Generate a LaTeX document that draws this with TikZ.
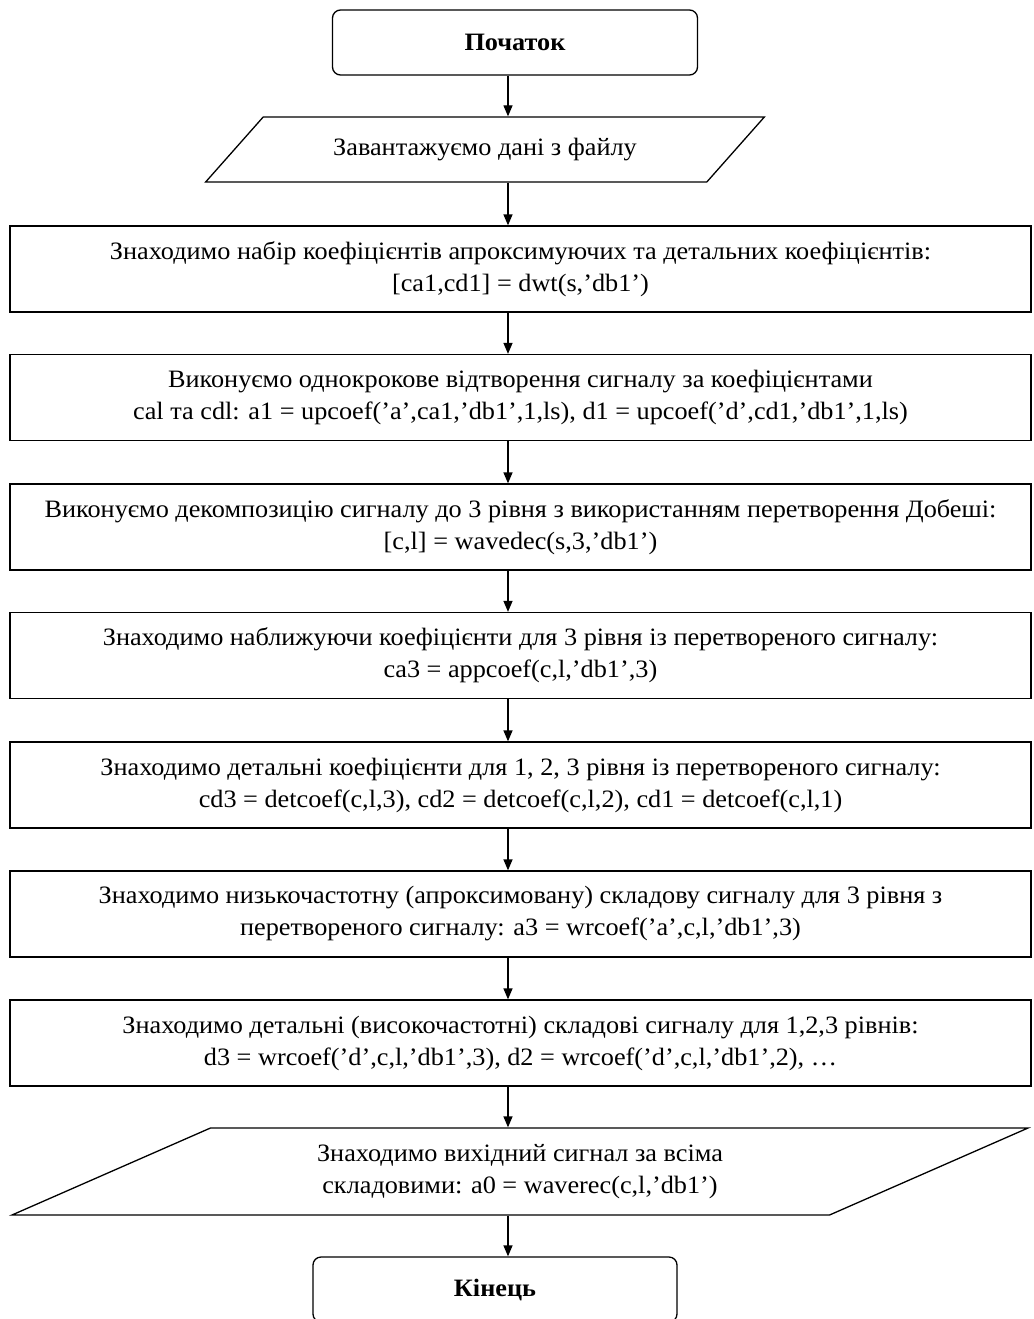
\documentclass[tikz,border=0pt]{standalone}
\usepackage{fontspec}
\setmainfont[FakeStretch=1.05]{Liberation Serif}
\usetikzlibrary{shapes.geometric,arrows.meta}

\newcommand{\flowfont}{\fontsize{25}{32}\selectfont}

\tikzset{
  >={Triangle[length=11pt,width=9pt]},
  block/.style={draw, line width=1.3pt, minimum width=1021pt, minimum height=86pt, align=center, inner sep=0pt},
  term/.style={draw, line width=1.3pt, rounded corners=8pt, minimum width=365pt, minimum height=65pt, font=\flowfont\bfseries},
  io/.style={draw, line width=1.3pt, trapezium, trapezium stretches=true, align=center, inner sep=0pt},
  flow/.style={->, line width=1.3pt}
}

\begin{document}
\begin{tikzpicture}[x=1pt, y=-1pt, font=\flowfont]
  \useasboundingbox (0,0) rectangle (1033,1319);

  % Start and input
  \node[term] (start) at (515,42.5) {Початок};
  \node[io, trapezium left angle=30, trapezium right angle=150,
        minimum width=560pt, minimum height=65pt] (load) at (485,149.5)
        {Завантажуємо дані з файлу};

  % Processing steps
  \node[block] (coefs) at (520.5,269)
    {Знаходимо набір коефіцієнтів апроксимуючих та детальних коефіцієнтів:\\ {[ca1,cd1]} = dwt(s,'db1')};
  \node[block] (recon) at (520.5,397.5)
    {Виконуємо однокрокове відтворення сигналу за коефіцієнтами\\ cal та cdl: a1 = upcoef('a',ca1,'db1',1,ls), d1 = upcoef('d',cd1,'db1',1,ls)};
  \node[block] (decomp) at (520.5,527)
    {Виконуємо декомпозицію сигналу до 3 рівня з використанням перетворення Добеші:\\ {[c,l]} = wavedec(s,3,'db1')};
  \node[block] (approx) at (520.5,655.5)
    {Знаходимо наближуючи коефіцієнти для 3 рівня із перетвореного сигналу:\\ ca3 = appcoef(c,l,'db1',3)};
  \node[block] (detail) at (520.5,785)
    {Знаходимо детальні коефіцієнти для 1, 2, 3 рівня із перетвореного сигналу:\\ cd3 = detcoef(c,l,3), cd2 = detcoef(c,l,2), cd1 = detcoef(c,l,1)};
  \node[block] (lowfreq) at (520.5,914)
    {Знаходимо низькочастотну (апроксимовану) складову сигналу для 3 рівня з\\ перетвореного сигналу: a3 = wrcoef('a',c,l,'db1',3)};
  \node[block] (highfreq) at (520.5,1043)
    {Знаходимо детальні (високочастотні) складові сигналу для 1,2,3 рівнів:\\ d3 = wrcoef('d',c,l,'db1',3), d2 = wrcoef('d',c,l,'db1',2), …};

  % Output and end
  \node[io, trapezium left angle=22.7, trapezium right angle=157.3,
        minimum width=1020pt, minimum height=87pt] (output) at (520,1171.5)
        {Знаходимо вихідний сигнал за всіма\\ складовими: a0 = waverec(c,l,'db1')};
  \node[term, minimum width=364pt] (finish) at (495,1289.5) {Кінець};

  % Arrows
  \coordinate (spine) at (508,0);
  \foreach \a/\b in {start/load, load/coefs, coefs/recon, recon/decomp, decomp/approx,
                     approx/detail, detail/lowfreq, lowfreq/highfreq, highfreq/output, output/finish}
    \draw[flow] (\a.south -| spine) -- (\b.north -| spine);
\end{tikzpicture}
\end{document}
